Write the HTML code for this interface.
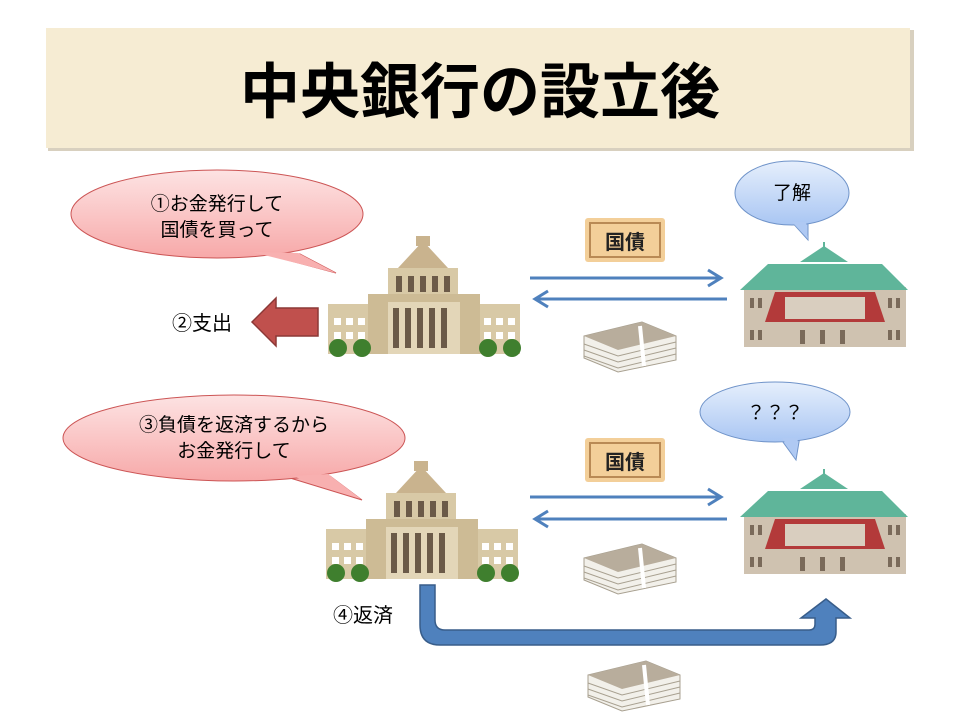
<!DOCTYPE html>
<html><head><meta charset="utf-8"><style>
html,body{margin:0;padding:0;background:#fff;}
svg{display:block;}
text{font-family:"Liberation Sans","Noto Sans CJK JP",sans-serif;}
</style></head><body>
<svg width="960" height="720" viewBox="0 0 960 720" xmlns="http://www.w3.org/2000/svg">
<defs>
<linearGradient id="pk" x1="0" y1="0" x2="0" y2="1"><stop offset="0" stop-color="#fde3e3"/><stop offset="1" stop-color="#f7a9a9"/></linearGradient>
<linearGradient id="bl" x1="0" y1="0" x2="0" y2="1"><stop offset="0" stop-color="#e6effc"/><stop offset="1" stop-color="#a9c6f3"/></linearGradient>
<g id="diet">
 <rect x="88" y="0" width="14" height="10" fill="#c9b38e"/>
 <polygon points="95,5 70,32 120,32" fill="#c9b38e"/>
 <rect x="60" y="32" width="70" height="34" fill="#d8c9a6"/>
 <rect x="68" y="40" width="6" height="16" fill="#6b5a48"/><rect x="80" y="40" width="6" height="16" fill="#6b5a48"/><rect x="92" y="40" width="6" height="16" fill="#6b5a48"/><rect x="104" y="40" width="6" height="16" fill="#6b5a48"/><rect x="116" y="40" width="6" height="16" fill="#6b5a48"/>
 <rect x="0" y="68" width="192" height="50" fill="#d8c9a6"/>
 <rect x="40" y="58" width="112" height="60" fill="#cdbb95"/>
 <rect x="60" y="66" width="72" height="52" fill="#e3d6b8"/>
 <rect x="65" y="72" width="6" height="40" fill="#6b5a48"/><rect x="77" y="72" width="6" height="40" fill="#6b5a48"/><rect x="89" y="72" width="6" height="40" fill="#6b5a48"/><rect x="101" y="72" width="6" height="40" fill="#6b5a48"/><rect x="113" y="72" width="6" height="40" fill="#6b5a48"/>
 <g fill="#fff"><rect x="6" y="82" width="7" height="7"/><rect x="18" y="82" width="7" height="7"/><rect x="30" y="82" width="7" height="7"/><rect x="6" y="96" width="7" height="7"/><rect x="18" y="96" width="7" height="7"/><rect x="30" y="96" width="7" height="7"/>
 <rect x="156" y="82" width="7" height="7"/><rect x="168" y="82" width="7" height="7"/><rect x="180" y="82" width="7" height="7"/><rect x="156" y="96" width="7" height="7"/><rect x="168" y="96" width="7" height="7"/><rect x="180" y="96" width="7" height="7"/></g>
 <g fill="#3f7f2e"><circle cx="10" cy="112" r="9"/><circle cx="34" cy="112" r="9"/><circle cx="160" cy="112" r="9"/><circle cx="184" cy="112" r="9"/></g>
</g>
<g id="boj">
 <rect x="4" y="45" width="162" height="60" fill="#cfc2b0"/>
 <polygon points="0,48 28,22 142,22 168,48" fill="#5fb59a"/>
 <polygon points="60,20 84,4 108,20" fill="#5fb59a"/>
 <rect x="83" y="0" width="2" height="6" fill="#5fb59a"/>
 <polygon points="35,50 135,50 145,80 25,80" fill="#b33a3a"/>
 <rect x="45" y="55" width="80" height="22" fill="#d9cebf"/>
 <g fill="#7a6a5a"><rect x="10" y="56" width="4" height="10"/><rect x="18" y="56" width="4" height="10"/><rect x="148" y="56" width="4" height="10"/><rect x="156" y="56" width="4" height="10"/><rect x="10" y="88" width="4" height="10"/><rect x="18" y="88" width="4" height="10"/><rect x="148" y="88" width="4" height="10"/><rect x="156" y="88" width="4" height="10"/><rect x="60" y="88" width="5" height="14"/><rect x="80" y="88" width="5" height="14"/><rect x="100" y="88" width="5" height="14"/></g>
</g>
<g id="bond">
 <rect x="0" y="0" width="80" height="44" rx="3" fill="#f3cf99"/>
 <rect x="5" y="5" width="70" height="34" fill="none" stroke="#b98a55" stroke-width="2"/>
 <text x="40" y="31" font-size="20" font-weight="bold" text-anchor="middle" fill="#222">国債</text>
</g>
<g id="money">
 <polygon points="0,22 58,8 92,22 92,46 34,58 0,44" fill="#f2f0ea" stroke="#a8a090"/>
 <polygon points="0,22 58,8 92,22 34,36" fill="#b8ad9c"/>
 <g stroke="#a8a090" fill="none"><path d="M0,30 L34,42 L92,28"/><path d="M0,36 L34,48 L92,34"/><path d="M0,42 L34,54 L92,40"/></g>
 <path d="M56,12 L60,52" stroke="#fff" stroke-width="4"/>
</g>
</defs>

<rect x="48" y="30" width="866" height="121" fill="#d8d0bf"/>
<rect x="46" y="28" width="864" height="120" fill="#f6ecd3"/>
<text x="480" y="113" font-size="60" font-weight="bold" text-anchor="middle" fill="#000">中央銀行の設立後</text>

<path d="M250,250 L336,273 L300,254 Z" fill="#f8b2b2" stroke="#c55" stroke-width="1"/>
<ellipse cx="217" cy="214" rx="146" ry="44" fill="url(#pk)" stroke="#c55" stroke-width="1"/>
<path d="M252,252 L336,273 L298,253" fill="#f8b0b0"/>
<text x="217" y="210" font-size="19" text-anchor="middle">①お金発行して</text>
<text x="217" y="236" font-size="19" text-anchor="middle">国債を買って</text>

<text x="172" y="330" font-size="20">②支出</text>
<polygon points="252,322 276,298 276,308 318,308 318,336 276,336 276,346" fill="#c0504d" stroke="#8c3836" stroke-width="1.5"/>

<use href="#diet" x="328" y="236"/>
<use href="#bond" x="585" y="218"/>
<use href="#money" x="584" y="314"/>
<use href="#boj" x="740" y="242"/>
<g stroke="#4f81bd" stroke-width="3" fill="none">
 <path d="M530,278 L720,278 M708,270 L721,278 L708,286"/>
 <path d="M727,299 L535,299 M548,291 L535,299 L548,307"/>
</g>
<path d="M790,220 L808,240 L808,218 Z" fill="#b4cdf4" stroke="#6f93c9"/>
<ellipse cx="792" cy="193" rx="57" ry="32" fill="url(#bl)" stroke="#6f93c9"/>
<path d="M792,222 L808,239 L806,222" fill="#afc9f3"/>
<text x="792" y="199" font-size="19" text-anchor="middle">了解</text>

<path d="M290,478 L362,500 L330,476 Z" fill="#f8b2b2" stroke="#c55"/>
<ellipse cx="234" cy="438" rx="171" ry="43" fill="url(#pk)" stroke="#c55"/>
<path d="M292,476 L361,499 L328,474" fill="#f8b0b0"/>
<text x="234" y="431" font-size="19" text-anchor="middle">③負債を返済するから</text>
<text x="234" y="457" font-size="19" text-anchor="middle">お金発行して</text>

<use href="#diet" x="326" y="461"/>
<use href="#bond" x="585" y="438"/>
<use href="#money" x="584" y="536"/>
<use href="#boj" x="740" y="469"/>
<g stroke="#4f81bd" stroke-width="3" fill="none">
 <path d="M530,497 L720,497 M708,489 L721,497 L708,505"/>
 <path d="M727,519 L535,519 M548,511 L535,519 L548,527"/>
</g>
<path d="M780,438 L796,460 L800,436 Z" fill="#b4cdf4" stroke="#6f93c9"/>
<ellipse cx="775" cy="412" rx="75" ry="30" fill="url(#bl)" stroke="#6f93c9"/>
<path d="M782,438 L795,458 L798,438" fill="#afc9f3"/>
<text x="775" y="419" font-size="19" text-anchor="middle">？？？</text>

<path d="M420,585 L435,585 L435,620 Q435,630 445,630 L809,630 Q815,630 815,624 L815,618 L801,618 L826,599 L850,618 L836,618 L836,632 Q836,645 820,645 L440,645 Q420,645 420,625 Z" fill="#4f81bd" stroke="#385d8a" stroke-width="1.5"/>
<text x="333" y="622" font-size="20">④返済</text>
<use href="#money" x="588" y="653"/>
</svg>
</body></html>
